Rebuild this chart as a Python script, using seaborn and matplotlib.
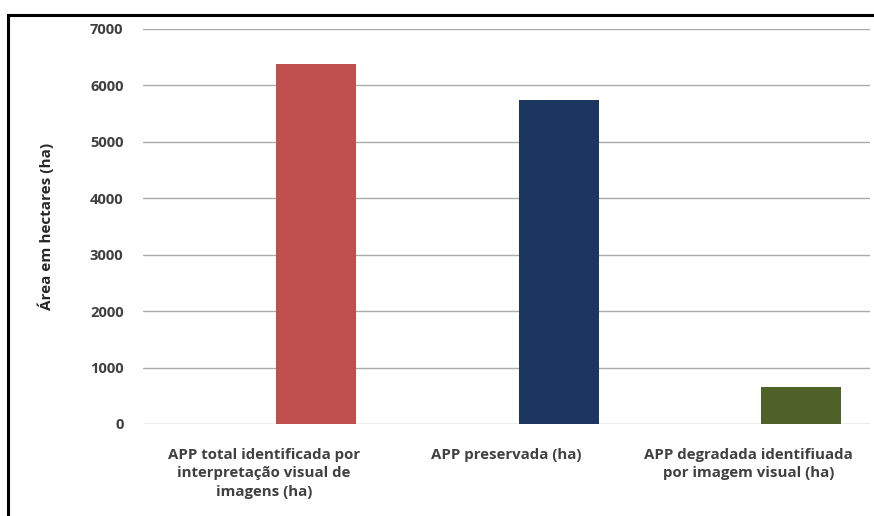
import matplotlib
matplotlib.use("Agg")
import matplotlib.pyplot as plt
import seaborn as sns
import pandas as pd
from matplotlib.patches import Rectangle

categorias = [
    "APP total identificada por\ninterpretação visual de\nimagens (ha)",
    "APP preservada (ha)",
    "APP degradada identifiuada\npor imagem visual (ha)",
]
areas_ha = [6380, 5740, 650]
cores = ["#c0504d", "#1b375f", "#4f6228"]
yticks = [0, 1000, 2000, 3000, 4000, 5000, 6000, 7000]

sns.set_theme(style="white")
plt.rcParams["font.family"] = ["Open Sans", "DejaVu Sans"]

df = pd.DataFrame({"categoria": categorias, "area": areas_ha})

fig = plt.figure(figsize=(8.74, 5.16), dpi=100)
ax = fig.add_axes([0.1636, 0.1783, 0.8318, 0.7655])

sns.barplot(data=df, x="categoria", y="area", hue="categoria",
            palette=cores, width=0.33, legend=False, ax=ax,
            saturation=1, edgecolor="none")

# bars sit to the right of their category slot
shift = 0.215
ax.set_xlim(-0.5 - shift, 2.5 - shift)
ax.set_xticks([i - shift for i in range(len(categorias))])
ax.set_xticklabels(categorias, fontsize=10.8, fontweight="bold",
                   color="#404040", linespacing=1.42)

ax.set_ylim(0, 7000)
ax.set_yticks(yticks)
ax.set_yticklabels([str(v) for v in yticks], fontsize=10.6,
                   fontweight="bold", color="#404040")
ax.tick_params(axis="y", length=0, pad=14)
ax.tick_params(axis="x", length=0, pad=17)

ax.yaxis.grid(True, color="#ababab", linewidth=1.0)
ax.set_axisbelow(True)
for s in ax.spines.values():
    s.set_visible(False)

ax.set_xlabel("")
ax.set_ylabel("Área em hectares (ha)", fontsize=11, fontweight="bold",
              color="#262626", labelpad=26)

# outer frame of the chart area
fig.patches.append(Rectangle((8 / 874, -0.05), 1.2, 1 - 15 / 516 + 0.05,
                             transform=fig.transFigure, fill=False,
                             edgecolor="black", linewidth=2.2))

fig.savefig("out.png", dpi=100)
